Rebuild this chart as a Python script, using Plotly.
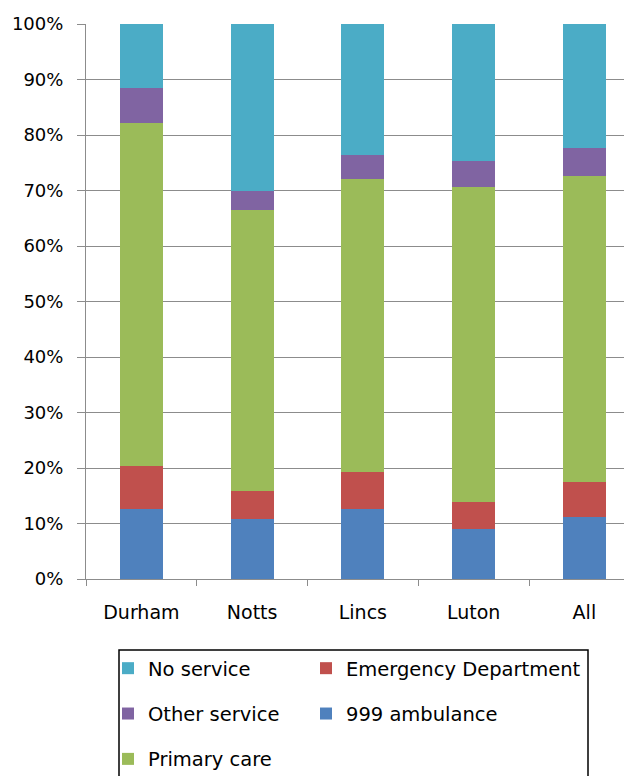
import plotly.graph_objects as go

categories = ["Durham", "Notts", "Lincs", "Luton", "All"]
ambulance_999 = [12.6, 10.9, 12.6, 9.0, 11.1]
emergency_dept = [7.8, 5.0, 6.7, 4.9, 6.3]
primary_care = [61.7, 50.5, 52.7, 56.8, 55.3]
other_service = [6.4, 3.6, 4.4, 4.6, 5.0]
no_service = [11.5, 30.0, 23.6, 24.7, 22.3]
y_ticks = list(range(0, 101, 10))
y_tick_labels = [f"{v}%" for v in y_ticks]

series = [
    ("999 ambulance", ambulance_999, "#4F81BD", "legend2", 2),
    ("Emergency Department", emergency_dept, "#C0504D", "legend2", 1),
    ("Primary care", primary_care, "#9BBB59", "legend", 3),
    ("Other service", other_service, "#8064A2", "legend", 2),
    ("No service", no_service, "#4BACC6", "legend", 1),
]

fig = go.Figure()
for name, vals, color, lg, rank in series:
    fig.add_trace(go.Bar(
        x=categories, y=vals, name=name, marker_color=color,
        marker_line_width=0, width=0.39, legend=lg, legendrank=rank,
        legendgroup=name,
    ))

font_family = "DejaVu Sans"
W, H = 632, 776
OFF = 8  # page body margin offset
# desired plot area in page pixels
P_LEFT, P_RIGHT, P_TOP, P_BOTTOM = 86, 632, 24, 579
L = P_LEFT - OFF
T = P_TOP - OFF
R = W - (P_RIGHT - OFF)
B = H - (P_BOTTOM - OFF)
pw, ph = P_RIGHT - P_LEFT, P_BOTTOM - P_TOP

def px_x(px):
    return (px - P_LEFT) / pw

def px_y(py):
    return (P_BOTTOM - py) / ph

legend_common = dict(
    font=dict(family=font_family, size=19.5, color="#000000"),
    bgcolor="rgba(0,0,0,0)", borderwidth=0, orientation="v",
    xanchor="left", yanchor="top", tracegroupgap=17, itemwidth=30,
    traceorder="grouped",
)

fig.update_layout(
    width=W, height=H,
    margin=dict(l=L, r=R, t=T, b=B, pad=0, autoexpand=False),
    barmode="stack",
    paper_bgcolor="white", plot_bgcolor="white",
    font=dict(family=font_family, size=18, color="#000000"),
    showlegend=True,
    legend=dict(x=px_x(108), y=px_y(649), **legend_common),
    legend2=dict(x=px_x(306), y=px_y(649), **legend_common),
    shapes=[dict(type="rect", xref="paper", yref="paper",
                 x0=px_x(119), x1=px_x(588), y0=px_y(810), y1=px_y(650),
                 line=dict(color="#000000", width=1.5), fillcolor="rgba(0,0,0,0)")],
)

fig.update_yaxes(
    range=[0, 100], tickvals=y_ticks, ticktext=y_tick_labels,
    showgrid=True, gridcolor="#8c8c8c", gridwidth=1,
    showline=True, linecolor="#8c8c8c", linewidth=1,
    ticks="outside", ticklen=8, tickcolor="#8c8c8c",
    ticklabelstandoff=10, zeroline=False, automargin=False,
    tickfont=dict(family=font_family, size=18, color="#000000"),
)
fig.update_xaxes(
    range=[-0.5, 4.43], showline=True, linecolor="#8c8c8c", linewidth=1,
    ticks="outside", ticklen=6, tickcolor="#8c8c8c", tickson="boundaries",
    ticklabelstandoff=16, showgrid=False, automargin=False,
    tickfont=dict(family=font_family, size=19, color="#000000"),
)

fig.write_html("out.html")
